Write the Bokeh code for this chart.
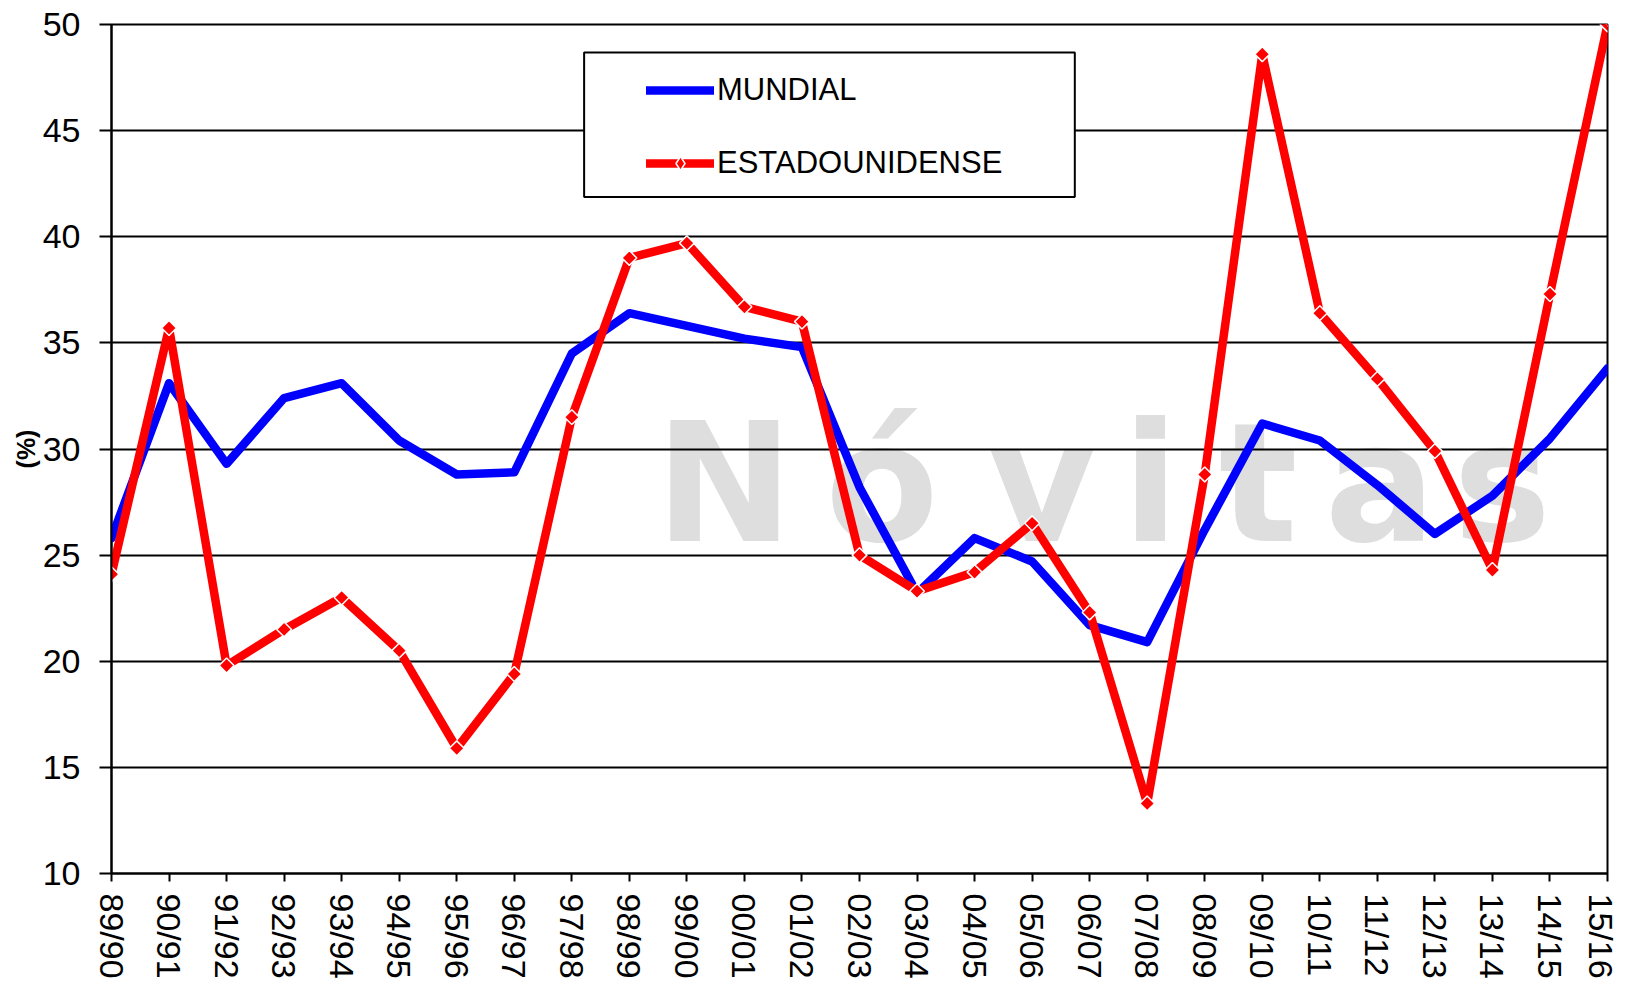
from bokeh.plotting import figure
from bokeh.models import (Range1d, FixedTicker, SingleIntervalTicker, Legend, LegendItem,
                          BoxAnnotation, Label)
from bokeh.embed import file_html
from bokeh.resources import INLINE
import numpy as np

seasons = ["89/90", "90/91", "91/92", "92/93", "93/94", "94/95", "95/96", "96/97",
           "97/98", "98/99", "99/00", "00/01", "01/02", "02/03", "03/04", "04/05",
           "05/06", "06/07", "07/08", "08/09", "09/10", "10/11", "11/12", "12/13",
           "13/14", "14/15", "15/16"]
mundial = [25.8, 33.1, 29.3, 32.4, 33.1, 30.4, 28.8, 28.9, 34.5, 36.4, 35.8, 35.2,
           34.8, 28.2, 23.2, 25.8, 24.7, 21.7, 20.9, 26.2, 31.2, 30.4, 28.3, 26.0,
           27.8, 30.5, 33.8]
estadounidense = [24.1, 35.7, 19.8, 21.5, 23.0, 20.5, 15.9, 19.4, 31.5, 39.0, 39.7,
                  36.7, 36.0, 25.0, 23.3, 24.2, 26.5, 22.3, 13.3, 28.8, 48.6, 36.4,
                  33.3, 29.9, 24.3, 37.3, 50.0]
series_names = ["MUNDIAL", "ESTADOUNIDENSE"]
y_title = "(%)"
watermark_letters = ["N", "ó", "v", "i", "t", "a", "s"]

FONT = "Liberation Sans"
xs = list(range(len(seasons)))

p = figure(width=1619, height=981, x_range=Range1d(0, len(seasons) - 1),
           y_range=Range1d(10, 50), output_backend="svg", toolbar_location=None,
           min_border_left=111, min_border_right=12, min_border_top=24,
           min_border_bottom=106)
p.background_fill_color = "white"
p.border_fill_color = "white"
p.outline_line_color = "black"
p.outline_line_width = 2

# faint watermark behind the grid (decoration, placed in plot space)
wm_centers = [10.65, 13.39, 16.17, 18.06, 19.93, 22.05, 24.17]
for ch, cx in zip(watermark_letters, wm_centers):
    p.add_layout(Label(x=cx, y=28.35, text=ch, text_font="DejaVu Sans",
                       text_font_size="165px", text_font_style="bold",
                       text_color="#dedede", text_align="center",
                       text_baseline="alphabetic", level="image"))

# axes
p.xgrid.visible = False
p.ygrid.grid_line_color = "black"
p.ygrid.grid_line_width = 2
p.yaxis.ticker = SingleIntervalTicker(interval=5, num_minor_ticks=0)
p.ygrid.ticker = SingleIntervalTicker(interval=5, num_minor_ticks=0)
p.xaxis.ticker = FixedTicker(ticks=xs)
p.xaxis.major_label_overrides = {i: s for i, s in zip(xs, seasons)}
p.xaxis.major_label_orientation = "vertical"

for ax in (p.xaxis[0], p.yaxis[0]):
    ax.axis_line_color = "black"
    ax.axis_line_width = 2
    ax.major_tick_line_color = "black"
    ax.major_tick_line_width = 2
    ax.major_tick_in = 0
    ax.minor_tick_line_color = None
    ax.major_label_text_font = FONT
    ax.major_label_text_font_size = "34px"
    ax.major_label_text_color = "black"

p.yaxis.major_tick_out = 12
p.yaxis.major_label_standoff = 19
p.xaxis.major_tick_out = 8
p.xaxis.major_label_standoff = 12
p.yaxis.axis_label = y_title
p.yaxis.axis_label_text_font = FONT
p.yaxis.axis_label_text_font_size = "25px"
p.yaxis.axis_label_text_font_style = "bold"
p.yaxis.axis_label_text_color = "black"
p.yaxis.axis_label_standoff = 0

# series
l1 = p.line(xs, mundial, line_color="#0000FF", line_width=8.5, line_join="round",
            line_cap="round")
l2 = p.line(xs, estadounidense, line_color="#FF0000", line_width=8.5, line_join="round",
            line_cap="round")
# diamond used for the legend symbol (hidden under the plotted markers)
m2_leg = p.scatter(xs, estadounidense, marker="diamond", size=4,
                   fill_color="#FF0000", line_color="white", line_width=1.5)
m2 = p.scatter(xs, estadounidense, marker="square", angle=np.pi / 4, size=10.5,
               fill_color="#FF0000", line_color="white", line_width=1.5)

# legend frame
box = BoxAnnotation(left=8.214, right=16.742, top=48.684, bottom=41.868,
                    fill_color="white", fill_alpha=1.0, line_color="black",
                    line_width=2, line_alpha=1.0)
p.add_layout(box)

legend = Legend(items=[LegendItem(label=series_names[0], renderers=[l1]),
                       LegendItem(label=series_names[1], renderers=[l2, m2_leg])],
                location=(522, 679), orientation="vertical",
                border_line_alpha=0, background_fill_alpha=0,
                padding=13, spacing=37, margin=0,
                glyph_width=68, glyph_height=34, label_height=34,
                label_standoff=3, label_text_font=FONT,
                label_text_font_size="31px", label_text_color="black")
p.add_layout(legend)

open("out.html", "w").write(file_html(p, INLINE))
